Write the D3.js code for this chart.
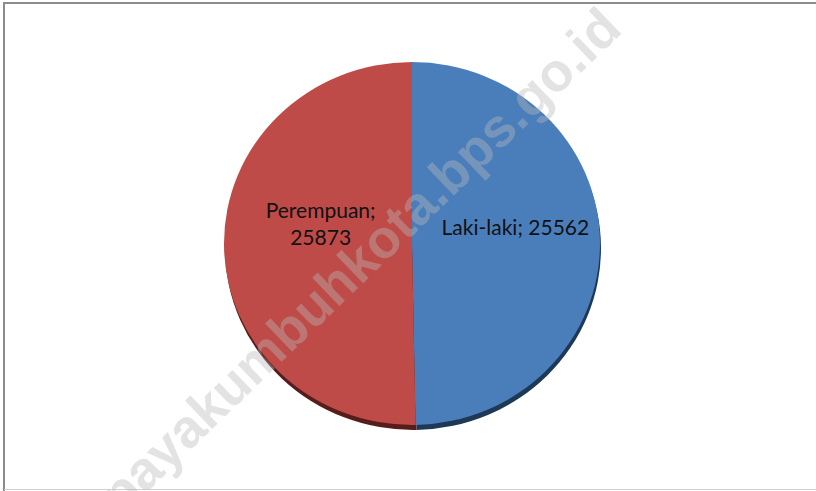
<!DOCTYPE html>
<html>
<head>
<meta charset="utf-8">
<script src="https://cdn.jsdelivr.net/npm/d3@7"></script>
<style>
  html, body { margin: 0; padding: 0; background: #fff; }
  svg { display: block; }
</style>
</head>
<body>
<svg id="chart" width="816" height="491"></svg>
<script>
// Data
const categories = ["Laki-laki", "Perempuan"];
const values = [25562, 25873];
const colors = ["#4a7ebb", "#be4b48"];
const shadowColors = ["#1e3956", "#561d1c"];
const watermark = "payakumbuhkota.bps.go.id";

const data = categories.map((c, i) => ({ name: c, value: values[i], color: colors[i], shadow: shadowColors[i] }));

const svg = d3.select("#chart");
const W = 816, H = 491;

// frame
svg.append("rect").attr("x", 0).attr("y", 0).attr("width", W).attr("height", H).attr("fill", "#fff");
svg.append("line").attr("x1", 3).attr("x2", W).attr("y1", 3).attr("y2", 3).attr("stroke", "#8c8c8c").attr("stroke-width", 2);
svg.append("line").attr("x1", 4).attr("x2", 4).attr("y1", 3).attr("y2", H).attr("stroke", "#8c8c8c").attr("stroke-width", 2);
svg.append("line").attr("x1", 4).attr("x2", W).attr("y1", 489.5).attr("y2", 489.5).attr("stroke", "#d0d0d0").attr("stroke-width", 1);

const cx = 412, cy = 243.5, rx = 188, ry = 181.5;
const pie = d3.pie().sort(null).value(d => d.value);
const arcs = pie(data);
const arc = d3.arc().innerRadius(0).outerRadius(ry);

// shadow layer
const gShadow = svg.append("g")
  .attr("transform", `translate(${cx + 1},${cy + 5}) scale(${rx / ry},1)`);
gShadow.selectAll("path").data(arcs).join("path")
  .attr("d", arc)
  .attr("fill", d => d.data.shadow);

const g = svg.append("g")
  .attr("transform", `translate(${cx},${cy}) scale(${rx / ry},1)`);
g.selectAll("path").data(arcs).join("path")
  .attr("d", arc)
  .attr("fill", d => d.data.color);

// labels
const labelArc = d3.arc().innerRadius(ry * 0.55).outerRadius(ry * 0.55);
const lab = svg.append("g").attr("transform", `translate(${cx},${cy})`);
arcs.forEach(d => {
  const [x, y] = labelArc.centroid(d);
  const px = x * rx / ry;
  const t = lab.append("text")
    .attr("text-anchor", "middle")
    .attr("font-family", "Lato, 'Open Sans', sans-serif")
    .attr("font-size", 21)
    .attr("fill", "#111");
  if (d.data.name === "Perempuan") {
    t.append("tspan").attr("x", px + 12).attr("y", y - 26).text(d.data.name + ";");
    t.append("tspan").attr("x", px + 12).attr("y", y + 1).text(d.data.value);
  } else {
    t.append("tspan").attr("x", px + 0).attr("y", y - 8).text(d.data.name + "; " + d.data.value);
  }
});

// watermark
svg.append("text")
  .attr("transform", "translate(121,517) rotate(-44)")
  .attr("font-family", "'Liberation Sans', Arial, sans-serif")
  .attr("font-weight", "bold")
  .attr("font-size", 54)
  .attr("fill", "#b8b8b8")
  .attr("fill-opacity", 0.4)
  .text(watermark);
</script>
</body>
</html>
